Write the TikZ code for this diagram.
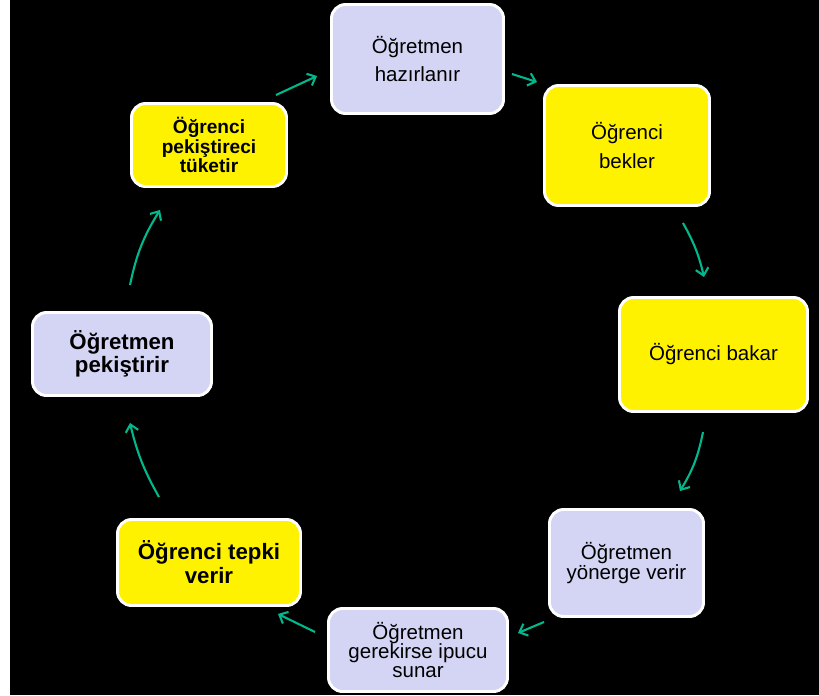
\documentclass[tikz,border=0pt]{standalone}
\usepackage{fontspec}
\setmainfont{Liberation Sans}
\usetikzlibrary{arrows.meta}
\definecolor{lavender}{RGB}{212,212,244}
\definecolor{cycteal}{RGB}{0,184,140}

\tikzset{
  stepbox/.style={draw=white, line width=2.5pt, rounded corners=12pt, align=center, text=black, inner sep=2pt},
  lav/.style={stepbox, fill=lavender},
  yel/.style={stepbox, fill=yellow},
  cyc/.style={draw=cycteal, line width=1.8pt, -{Straight Barb[length=6pt,width=11pt]}},
  small/.style={font=\fontsize{17.5}{16.6}\selectfont},
}

\begin{document}
\begin{tikzpicture}[x=0.03cm, y=0.03cm]
            \fill[white] (0,0) rectangle (819,-695);
            \fill[black] (10,0) rectangle (819,-695);
            \useasboundingbox (0,0) rectangle (819,-695);
            % the cycle of steps
            \node[lav, minimum width=5.16cm, minimum height=3.27cm, font=\fontsize{17.5}{24.7}\selectfont] (hazir) at (417.5,-59) {Öğretmen\\hazırlanır};
            \node[yel, minimum width=4.95cm, minimum height=3.6cm, font=\fontsize{17.5}{24}\selectfont] (bekler) at (627,-145.5) {Öğrenci\\bekler};
            \node[yel, minimum width=5.64cm, minimum height=3.42cm, font=\fontsize{17.5}{24}\selectfont] (bakar) at (713.5,-354.5) {Öğrenci bakar};
            \node[lav, small, minimum width=4.62cm, minimum height=3.21cm] (yonerge) at (626.5,-563) {Öğretmen\\yönerge verir};
            \node[lav, small, minimum width=5.37cm, minimum height=2.49cm] (ipucu) at (418,-650) {Öğretmen\\gerekirse ipucu\\sunar};
            \node[yel, minimum width=5.49cm, minimum height=2.58cm, font=\fontsize{19}{20.4}\selectfont\bfseries] (tepki) at (209,-562.5) {Öğrenci tepki\\verir};
            \node[lav, minimum width=5.37cm, minimum height=2.49cm, font=\fontsize{19}{19.6}\selectfont\bfseries] (pekis) at (122,-354) {Öğretmen\\pekiştirir};
            \node[yel, minimum width=4.65cm, minimum height=2.49cm, font=\fontsize{16.3}{16.6}\selectfont\bfseries] (tuket) at (209,-145) {Öğrenci\\pekiştireci\\tüketir};
            % arrows between them
            \draw[cyc] ([shift={(-12,7)}]tuket.north east) -- ([shift={(-13,-17)}]hazir.west);
            \draw[cyc] ([shift={(7,-15)}]hazir.east) -- ([shift={(-6,2)}]bekler.north west);
            \draw[cyc] ([shift={(-28,-16)}]bekler.south east) to[bend left=8] ([shift={(-9.5,19)}]bakar.north);
            \draw[cyc] ([shift={(-10.5,-19)}]bakar.south) to[bend left=10] ([shift={(-25,17)}]yonerge.north east);
            \draw[cyc] ([shift={(-4,-4)}]yonerge.south west) -- ([shift={(9,17)}]ipucu.east);
            \draw[cyc] ([shift={(-12,18)}]ipucu.west) -- ([shift={(-24,-7)}]tepki.south east);
            \draw[cyc] ([shift={(-50,21)}]tepki.north) to[bend left=8] ([shift={(8,-26)}]pekis.south);
            \draw[cyc] ([shift={(8,26)}]pekis.north) to[bend left=10] ([shift={(-49,-22)}]tuket.south);
        \end{tikzpicture}
\end{document}
